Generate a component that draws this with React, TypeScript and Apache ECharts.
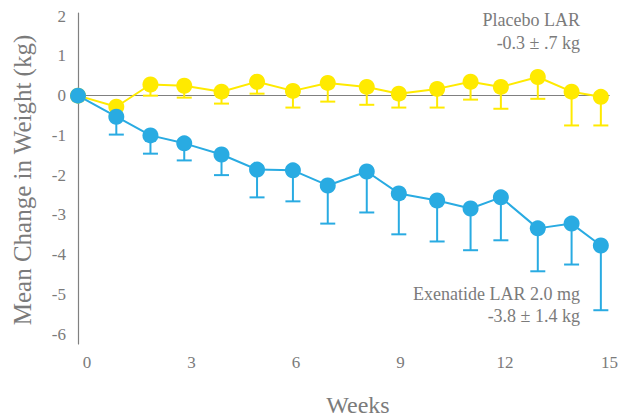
import React, { useEffect, useRef } from "react";
import * as echarts from "echarts";

// Visit times (weeks, as plotted), weekly mean change in body weight (kg)
// and the lower end of each error bar
const visitWeeks = [0, 1.1, 2.08, 3.05, 4.12, 5.14, 6.17, 7.17, 8.29, 9.21, 10.31, 11.27, 12.14, 13.2, 14.17, 15.01];
const placebo = [0, -0.28, 0.28, 0.25, 0.1, 0.35, 0.12, 0.32, 0.22, 0.05, 0.17, 0.35, 0.22, 0.47, 0.1, -0.03];
const placeboLow = [null, -0.5, 0.0, -0.05, -0.2, 0.05, -0.3, -0.15, -0.23, -0.3, -0.3, -0.1, -0.33, -0.08, -0.75, -0.75];
const exenatide = [0, -0.53, -1.0, -1.2, -1.48, -1.86, -1.88, -2.26, -1.91, -2.46, -2.64, -2.84, -2.56, -3.34, -3.22, -3.77];
const exenatideLow = [null, -0.98, -1.46, -1.63, -2.0, -2.56, -2.66, -3.22, -2.94, -3.49, -3.67, -3.89, -3.64, -4.42, -4.25, -5.4];

const placeboLabel = ["Placebo LAR", "-0.3 ± .7 kg"];
const exenatideLabel = ["Exenatide LAR 2.0 mg", "-3.8 ± 1.4 kg"];

const YELLOW = "#ffea00";
const BLUE = "#29abe2";
const GRAY = "#7b7b7b";
const FONT = "Liberation Serif, Times New Roman, serif";

function errorBars(name: string, mean: number[], low: (number | null)[], color: string) {
  const data = visitWeeks
    .map((w, i) => [w, mean[i], low[i]])
    .filter((d) => d[2] !== null);
  return {
    name,
    type: "custom",
    z: 1,
    data,
    renderItem: (_params: any, api: any) => {
      const x = api.value(0);
      const top = api.coord([x, api.value(1)]);
      const bottom = api.coord([x, api.value(2)]);
      const style = { stroke: color, lineWidth: 2 };
      return {
        type: "group",
        children: [
          { type: "line", shape: { x1: top[0], y1: top[1], x2: bottom[0], y2: bottom[1] }, style },
          { type: "line", shape: { x1: bottom[0] - 7.5, y1: bottom[1], x2: bottom[0] + 7.5, y2: bottom[1] }, style },
        ],
      };
    },
  };
}

function lineSeries(name: string, values: number[], color: string) {
  return {
    name,
    type: "line",
    z: 2,
    data: visitWeeks.map((w, i) => [w, values[i]]),
    symbol: "circle",
    symbolSize: 16,
    itemStyle: { color },
    lineStyle: { color, width: 2 },
  };
}

function label(text: string, x: number, y: number, size: number, align = "right", rotation = 0) {
  return {
    type: "text",
    x,
    y,
    rotation,
    style: { text, fill: GRAY, fontFamily: FONT, fontSize: size, align, verticalAlign: "middle" },
  };
}

export default function App() {
  const ref = useRef<HTMLDivElement>(null);

  useEffect(() => {
    if (!ref.current) return;
    const chart = echarts.init(ref.current, undefined, { renderer: "svg" });
    chart.setOption({
      animation: false,
      backgroundColor: "#ffffff",
      grid: { left: 78, right: 9.25, top: 13, bottom: 76, containLabel: false },
      xAxis: {
        type: "value",
        min: 0,
        max: 15.25,
        interval: 3,
        splitLine: { show: false },
        axisTick: { show: false },
        axisLine: { lineStyle: { color: "#808080", width: 1.2 } },
        axisLabel: {
          color: GRAY,
          fontFamily: FONT,
          fontSize: 17,
          margin: 10,
          padding: [0, 0, 0, 18],
          formatter: (v: number) => (Math.abs(v % 3) < 1e-6 ? String(v) : ""),
        },
      },
      yAxis: {
        type: "value",
        min: -6.25,
        max: 2.08,
        interval: 0.25,
        splitLine: { show: false },
        axisTick: { show: false },
        axisLine: { show: true, lineStyle: { color: "#808080", width: 1.2 } },
        axisLabel: {
          color: GRAY,
          fontFamily: FONT,
          fontSize: 17,
          margin: 12,
          formatter: (v: number) => (Math.abs(v - Math.round(v)) < 1e-6 ? String(Math.round(v)) : ""),
        },
      },
      graphic: [
        label("Mean Change in Weight (kg)", 22, 180, 25, "center", Math.PI / 2),
        label("Weeks", 358, 405, 24, "center"),
        label(placeboLabel[0], 580, 20, 18),
        label(placeboLabel[1], 580, 43, 18),
        label(exenatideLabel[0], 580, 294, 18),
        label(exenatideLabel[1], 580, 316, 18),
      ],
      series: [
        errorBars("Placebo LAR error", placebo, placeboLow, YELLOW),
        lineSeries("Placebo LAR", placebo, YELLOW),
        errorBars("Exenatide LAR error", exenatide, exenatideLow, BLUE),
        lineSeries("Exenatide LAR 2.0 mg", exenatide, BLUE),
      ],
    });
    return () => chart.dispose();
  }, []);

  return (
    <div
      ref={ref}
      style={{ position: "fixed", left: 0, top: 0, width: 621, height: 420, background: "#fff" }}
    />
  );
}
